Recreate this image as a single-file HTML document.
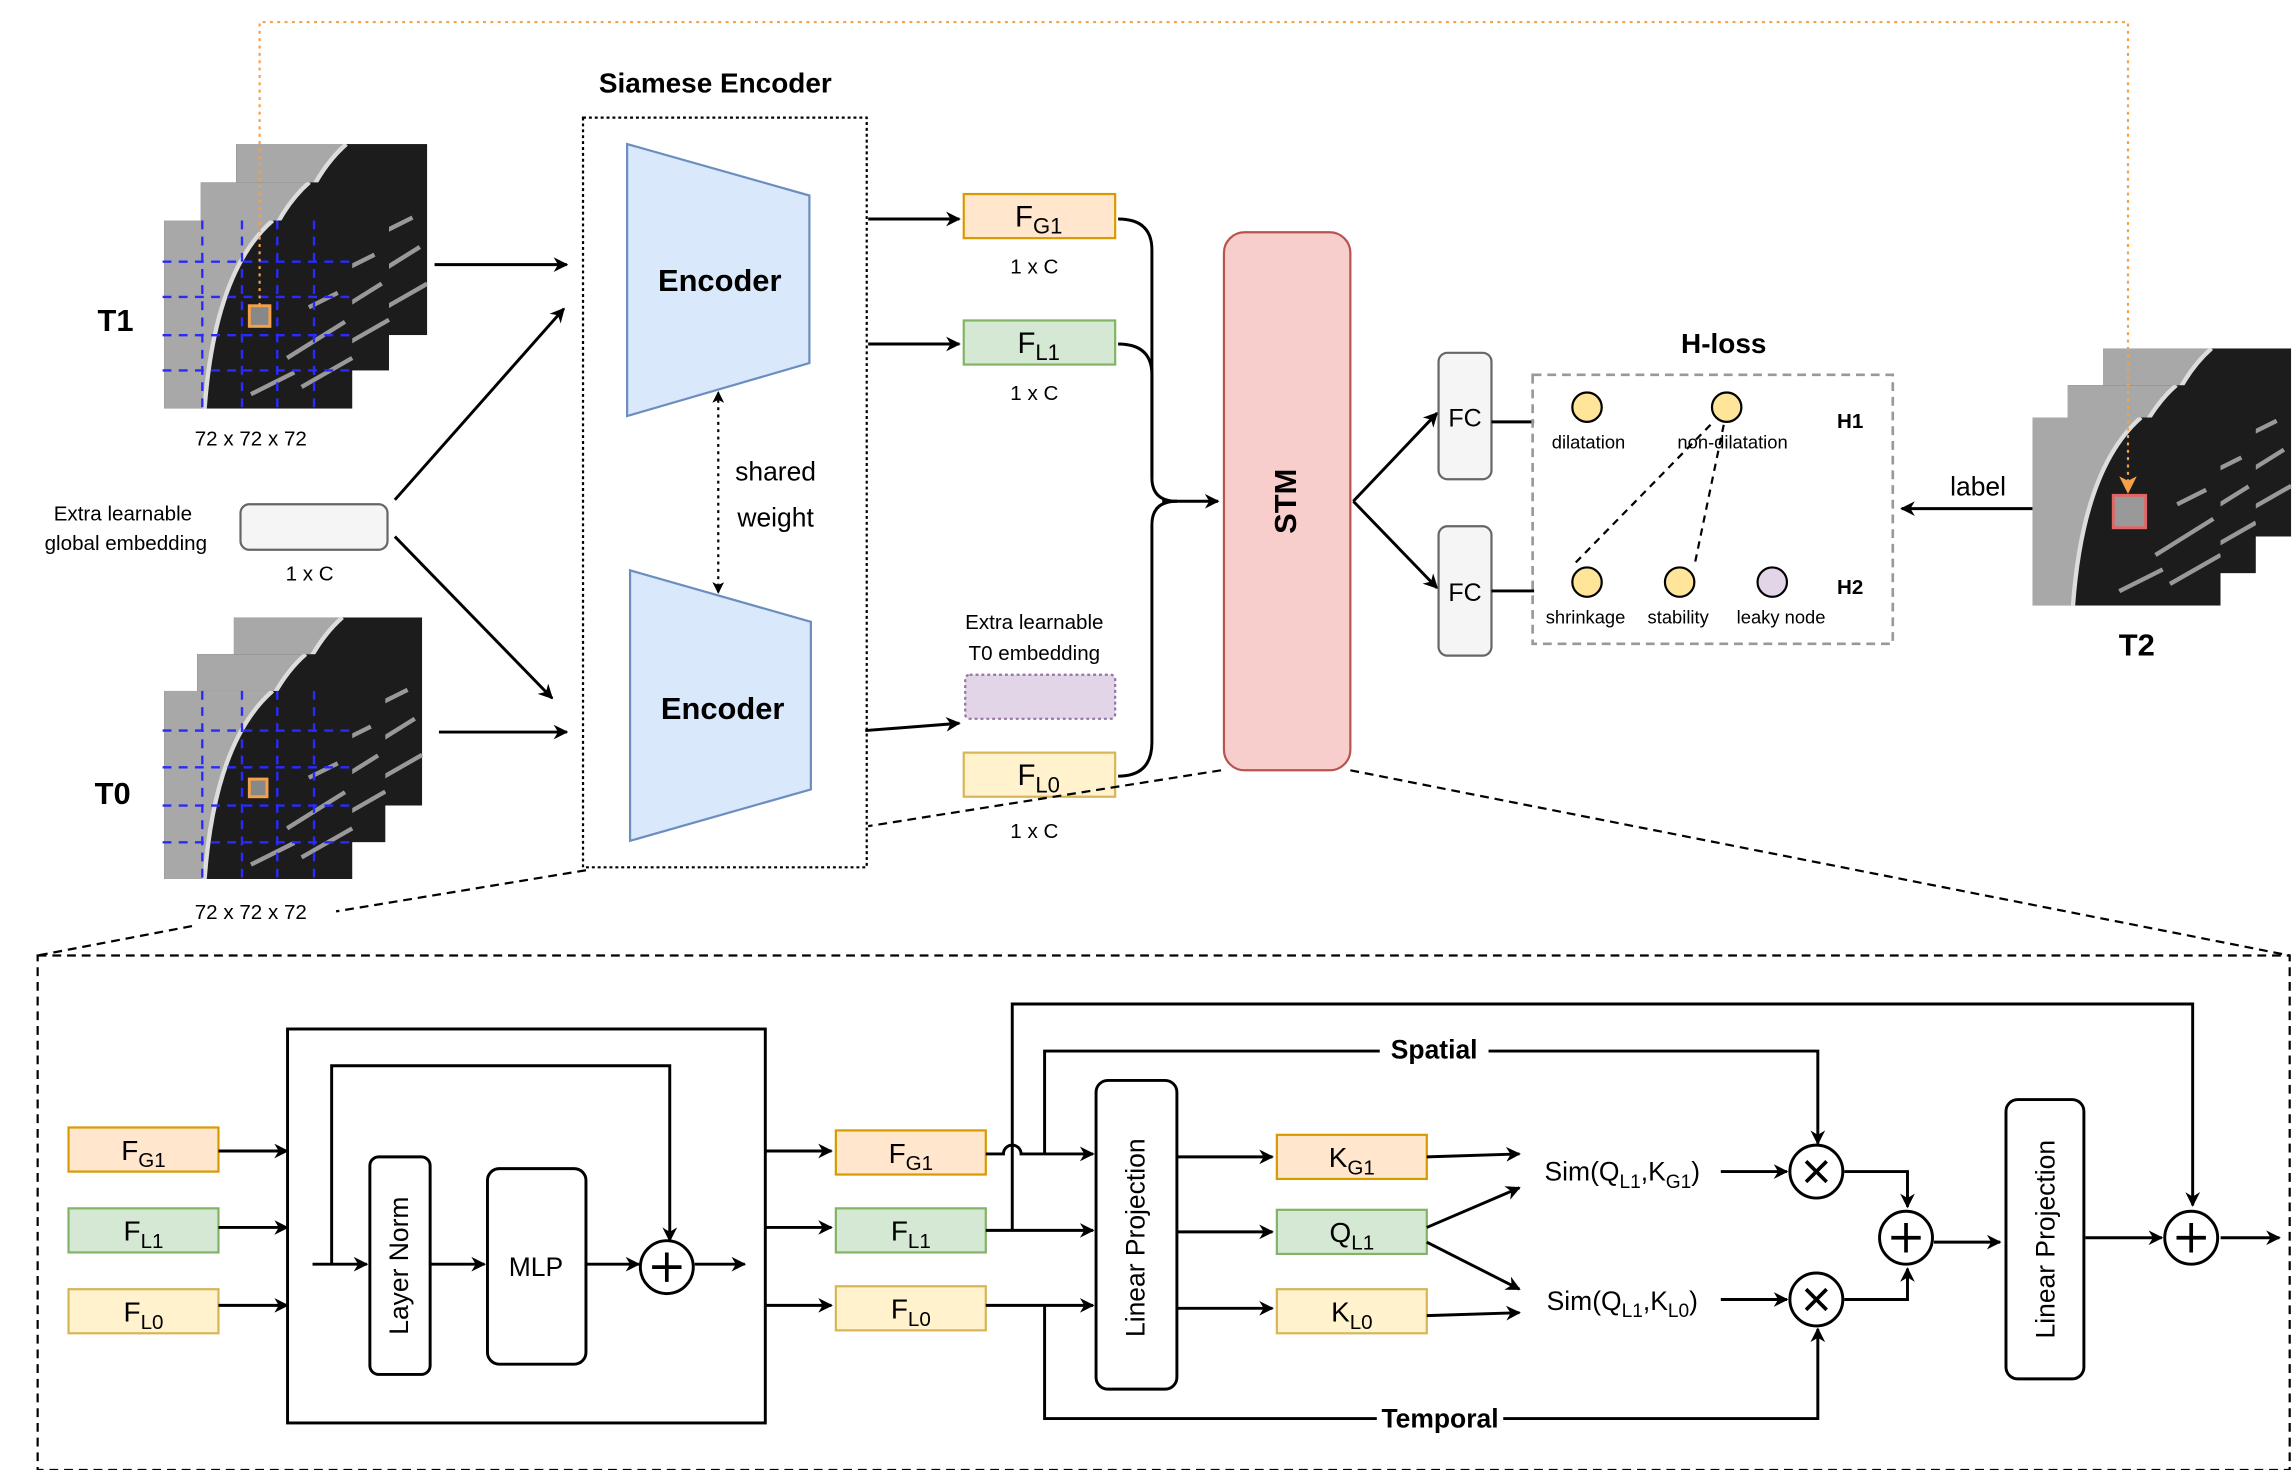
<!DOCTYPE html>
<html><head><meta charset="utf-8"><style>
html,body{margin:0;padding:0;background:#fff}
svg{display:block}
text{font-family:"Liberation Sans","DejaVu Sans",sans-serif;fill:#000}
</style></head><body>
<svg width="2295" height="1470" viewBox="0 0 1560 1000" xmlns="http://www.w3.org/2000/svg">
<defs>
<marker id="ar" markerWidth="10" markerHeight="10" refX="9" refY="5" orient="auto" markerUnits="userSpaceOnUse"><path d="M0,0 L10,5 L0,10 L3,5 Z" fill="#000"/></marker>
<marker id="ao" markerWidth="12" markerHeight="12" refX="11" refY="6" orient="auto" markerUnits="userSpaceOnUse"><path d="M0,0 L12,6 L0,12 L3,6 Z" fill="#f5a04a"/></marker>
<marker id="as" markerWidth="8" markerHeight="8" refX="7" refY="4" orient="auto-start-reverse" markerUnits="userSpaceOnUse"><path d="M0,0 L8,4 L0,8 L2,4 Z" fill="#000"/></marker>
<symbol id="ct" viewBox="0 0 130 130">
<rect width="130" height="130" fill="#1c1c1c"/>
<path d="M0,0 H75 Q35,35 28,130 H0 Z" fill="#a8a8a8"/>
<path d="M75,0 Q35,35 28,130" stroke="#ddd" stroke-width="3" fill="none"/>
<path d="M85,95 L125,70 M95,115 L130,95 M100,60 L120,50 M60,120 L90,105" stroke="#999" stroke-width="3" fill="none"/>
</symbol>
</defs>

<!-- T1 stack -->
<use href="#ct" x="160" y="98" width="130" height="130"/>
<use href="#ct" x="135" y="124" width="130" height="128"/>
<use href="#ct" x="110" y="150" width="130" height="128"/>
<g stroke="#2a2aff" stroke-width="1.6" stroke-dasharray="6,5">
<path d="M110,178 H240 M110,202 H240 M110,228 H240 M110,252 H240 M137,150 V278 M164,150 V278 M188,150 V278 M213,150 V278"/>
</g>
<rect x="169" y="208" width="14" height="14" fill="#888" stroke="#f5a04a" stroke-width="2"/>
<!-- T0 stack -->
<use href="#ct" x="158" y="420" width="129" height="128"/>
<use href="#ct" x="133" y="445" width="129" height="128"/>
<use href="#ct" x="110" y="470" width="130" height="128"/>
<g stroke="#2a2aff" stroke-width="1.6" stroke-dasharray="6,5">
<path d="M110,497 H240 M110,522 H240 M110,548 H240 M110,573 H240 M137,470 V598 M164,470 V598 M188,470 V598 M213,470 V598"/>
</g>
<rect x="169" y="530" width="12" height="12" fill="#888" stroke="#f5a04a" stroke-width="2"/>

<text x="78" y="225" font-size="21" font-weight="bold" text-anchor="middle">T1</text>
<text x="76" y="547" font-size="21" font-weight="bold" text-anchor="middle">T0</text>
<text x="170" y="303" font-size="14" text-anchor="middle">72 x 72 x 72</text>
<text x="170" y="625" font-size="14" text-anchor="middle">72 x 72 x 72</text>

<rect x="163" y="343" width="100" height="31" rx="6" fill="#f5f5f5" stroke="#666" stroke-width="1.5"/>
<text x="210" y="395" font-size="14" text-anchor="middle">1 x C</text>
<text x="83" y="354" font-size="14" text-anchor="middle">Extra learnable</text>
<text x="85" y="374" font-size="14" text-anchor="middle">global embedding</text>

<g stroke="#000" stroke-width="2" fill="none" marker-end="url(#ar)">
<path d="M295,180 H385"/><path d="M298,498 H385"/>
<path d="M268,340 L383,210"/><path d="M268,365 L375,475"/>
</g>

<!-- Siamese -->
<rect x="396" y="80" width="193" height="510" fill="none" stroke="#000" stroke-width="1.5" stroke-dasharray="2,2"/>
<text x="486" y="63" font-size="19" font-weight="bold" text-anchor="middle">Siamese Encoder</text>
<polygon points="426,98 550,133 550,247 426,283" fill="#dae8fc" stroke="#6c8ebf" stroke-width="1.5"/>
<text x="489" y="198" font-size="21" font-weight="bold" text-anchor="middle">Encoder</text>
<polygon points="428,388 551,423 551,537 428,572" fill="#dae8fc" stroke="#6c8ebf" stroke-width="1.5"/>
<text x="491" y="489" font-size="21" font-weight="bold" text-anchor="middle">Encoder</text>
<path d="M488,267 V403" stroke="#000" stroke-width="1.5" stroke-dasharray="2,3" fill="none" marker-start="url(#as)" marker-end="url(#as)"/>
<text x="527" y="327" font-size="18" text-anchor="middle">shared</text>
<text x="527" y="358" font-size="18" text-anchor="middle">weight</text>

<g stroke="#000" stroke-width="2" fill="none" marker-end="url(#ar)">
<path d="M590,149 H652"/><path d="M590,234 H652"/><path d="M588,497 L652,492"/>
</g>

<rect x="655" y="132" width="103" height="30" fill="#ffe6cc" stroke="#d79b00" stroke-width="1.5"/>
<text x="706" y="154" font-size="20" text-anchor="middle">F<tspan font-size="15" dy="5">G1</tspan></text>
<rect x="655" y="218" width="103" height="30" fill="#d5e8d4" stroke="#82b366" stroke-width="1.5"/>
<text x="706" y="240" font-size="20" text-anchor="middle">F<tspan font-size="15" dy="5">L1</tspan></text>
<rect x="656" y="459" width="102" height="30" rx="3" fill="#e1d5e7" stroke="#9673a6" stroke-width="1.5" stroke-dasharray="2,2"/>
<rect x="655" y="512" width="103" height="30" fill="#fff2cc" stroke="#d6b656" stroke-width="1.5"/>
<text x="706" y="534" font-size="20" text-anchor="middle">F<tspan font-size="15" dy="5">L0</tspan></text>
<text x="703" y="186" font-size="14" text-anchor="middle">1 x C</text>
<text x="703" y="272" font-size="14" text-anchor="middle">1 x C</text>
<text x="703" y="570" font-size="14" text-anchor="middle">1 x C</text>
<text x="703" y="428" font-size="14" text-anchor="middle">Extra learnable</text>
<text x="703" y="449" font-size="14" text-anchor="middle">T0 embedding</text>

<g stroke="#000" stroke-width="2" fill="none">
<path d="M760,149 Q783,149 783,170 V325 Q783,341 800,341"/>
<path d="M760,234 Q783,234 783,255 V325"/>
<path d="M760,528 Q783,528 783,505 V357 Q783,341 800,341"/>
<path d="M790,341 H828" marker-end="url(#ar)"/>
</g>

<rect x="832" y="158" width="86" height="366" rx="14" fill="#f8cecc" stroke="#b85450" stroke-width="1.5"/>
<text x="0" y="0" font-size="21" font-weight="bold" text-anchor="middle" transform="translate(881,341) rotate(-90)">STM</text>

<g stroke="#000" stroke-width="2" fill="none" marker-end="url(#ar)">
<path d="M920,341 L977,281"/><path d="M920,341 L977,400"/>
</g>
<rect x="978" y="240" width="36" height="86" rx="6" fill="#f5f5f5" stroke="#666" stroke-width="1.5"/>
<text x="996" y="290" font-size="17" text-anchor="middle" fill="#444">FC</text>
<rect x="978" y="358" width="36" height="88" rx="6" fill="#f5f5f5" stroke="#666" stroke-width="1.5"/>
<text x="996" y="409" font-size="17" text-anchor="middle" fill="#444">FC</text>
<path d="M1014,287 H1043 M1014,402 H1043" stroke="#000" stroke-width="2"/>

<rect x="1042" y="255" width="245" height="183" fill="none" stroke="#999" stroke-width="1.8" stroke-dasharray="6,4"/>
<text x="1172" y="240" font-size="19" font-weight="bold" text-anchor="middle">H-loss</text>
<path d="M1163,289 L1069,385 M1172,289 L1152,385" stroke="#000" stroke-width="1.5" stroke-dasharray="5,4"/>
<g stroke="#000" stroke-width="1.5">
<circle cx="1079" cy="277" r="10" fill="#ffe599"/>
<circle cx="1174" cy="277" r="10" fill="#ffe599"/>
<circle cx="1079" cy="396" r="10" fill="#ffe599"/>
<circle cx="1142" cy="396" r="10" fill="#ffe599"/>
<circle cx="1205" cy="396" r="10" fill="#e1d5e7"/>
</g>
<g font-size="12.5" text-anchor="middle">
<text x="1080" y="305">dilatation</text><text x="1178" y="305">non-dilatation</text>
<text x="1078" y="424">shrinkage</text><text x="1141" y="424">stability</text><text x="1211" y="424">leaky node</text>
</g>
<text x="1258" y="291" font-size="14" font-weight="bold" text-anchor="middle">H1</text>
<text x="1258" y="404" font-size="14" font-weight="bold" text-anchor="middle">H2</text>

<path d="M1382,346 H1293" stroke="#000" stroke-width="2" marker-end="url(#ar)"/>
<text x="1345" y="337" font-size="18" text-anchor="middle">label</text>

<use href="#ct" x="1430" y="237" width="128" height="128"/>
<use href="#ct" x="1406" y="262" width="128" height="128"/>
<use href="#ct" x="1382" y="284" width="128" height="128"/>
<rect x="1437" y="337" width="22" height="22" fill="#999" stroke="#e06666" stroke-width="2"/>
<text x="1453" y="446" font-size="21" font-weight="bold" text-anchor="middle">T2</text>

<!-- orange dotted (drawn over images) -->
<path d="M176,208 V15 H1447 V335" stroke="#f5a04a" stroke-width="1.5" stroke-dasharray="2,3" fill="none" marker-end="url(#ao)"/>

<!-- zoom dashed -->
<g stroke="#000" stroke-width="1.5" stroke-dasharray="6,4" fill="none">
<path d="M918,524 L1557,650"/>
<path d="M830,524 L590,562"/>
<path d="M398,592 L228,620"/>
<path d="M130,630 L25,650"/>
<rect x="25" y="650" width="1532" height="350"/>
</g>

<!-- bottom -->
<rect x="46" y="767" width="102" height="30" fill="#ffe6cc" stroke="#d79b00" stroke-width="1.5"/>
<text x="97" y="789" font-size="19" text-anchor="middle">F<tspan font-size="14" dy="5">G1</tspan></text>
<rect x="46" y="822" width="102" height="30" fill="#d5e8d4" stroke="#82b366" stroke-width="1.5"/>
<text x="97" y="844" font-size="19" text-anchor="middle">F<tspan font-size="14" dy="5">L1</tspan></text>
<rect x="46" y="877" width="102" height="30" fill="#fff2cc" stroke="#d6b656" stroke-width="1.5"/>
<text x="97" y="899" font-size="19" text-anchor="middle">F<tspan font-size="14" dy="5">L0</tspan></text>

<g stroke="#000" stroke-width="2" fill="none" marker-end="url(#ar)">
<path d="M148,783 H195"/><path d="M148,835 H195"/><path d="M148,888 H195"/>
</g>
<rect x="195" y="700" width="325" height="268" fill="none" stroke="#000" stroke-width="2"/>
<g stroke="#000" stroke-width="2" fill="none">
<path d="M212,860 H249" marker-end="url(#ar)"/>
<path d="M225,860 V725 H455 V844" marker-end="url(#ar)"/>
<path d="M292,860 H329" marker-end="url(#ar)"/>
<path d="M398,860 H434" marker-end="url(#ar)"/>
<path d="M472,860 H506" marker-end="url(#ar)"/>
</g>
<rect x="251" y="787" width="41" height="148" rx="6" fill="#fff" stroke="#000" stroke-width="2"/>
<text font-size="18" text-anchor="middle" transform="translate(277,861) rotate(-90)">Layer Norm</text>
<rect x="331" y="795" width="67" height="133" rx="8" fill="#fff" stroke="#000" stroke-width="2"/>
<text x="364" y="868" font-size="18" text-anchor="middle">MLP</text>
<circle cx="453" cy="862" r="18" fill="#fff" stroke="#000" stroke-width="2"/>
<path d="M443,862 H463 M453,852 V872" stroke="#000" stroke-width="2.5"/>

<g stroke="#000" stroke-width="2" fill="none" marker-end="url(#ar)">
<path d="M520,783 H565"/><path d="M520,835 H565"/><path d="M520,888 H565"/>
</g>
<rect x="568" y="769" width="102" height="30" fill="#ffe6cc" stroke="#d79b00" stroke-width="1.5"/>
<text x="619" y="791" font-size="19" text-anchor="middle">F<tspan font-size="14" dy="5">G1</tspan></text>
<rect x="568" y="822" width="102" height="30" fill="#d5e8d4" stroke="#82b366" stroke-width="1.5"/>
<text x="619" y="844" font-size="19" text-anchor="middle">F<tspan font-size="14" dy="5">L1</tspan></text>
<rect x="568" y="875" width="102" height="30" fill="#fff2cc" stroke="#d6b656" stroke-width="1.5"/>
<text x="619" y="897" font-size="19" text-anchor="middle">F<tspan font-size="14" dy="5">L0</tspan></text>

<g stroke="#000" stroke-width="2" fill="none">
<path d="M670,785 H682 A6,6 0 0 1 694,785 H743" marker-end="url(#ar)"/>
<path d="M670,837 H743" marker-end="url(#ar)"/>
<path d="M670,888 H743" marker-end="url(#ar)"/>
<path d="M688,837 V683 H1491 V820" marker-end="url(#ar)"/>
<path d="M710,785 V715 H1236 V778" marker-end="url(#ar)"/>
<path d="M710,888 V965 H1236 V904" marker-end="url(#ar)"/>
</g>
<rect x="938" y="705" width="74" height="20" fill="#fff"/>
<text x="975" y="720" font-size="18" font-weight="bold" text-anchor="middle">Spatial</text>
<rect x="936" y="955" width="86" height="20" fill="#fff"/>
<text x="979" y="971" font-size="18" font-weight="bold" text-anchor="middle">Temporal</text>

<rect x="745" y="735" width="55" height="210" rx="8" fill="#fff" stroke="#000" stroke-width="2"/>
<text font-size="18" text-anchor="middle" transform="translate(778,842) rotate(-90)">Linear Projection</text>
<g stroke="#000" stroke-width="2" fill="none" marker-end="url(#ar)">
<path d="M800,787 H865"/><path d="M800,838 H865"/><path d="M800,890 H865"/>
</g>
<rect x="868" y="772" width="102" height="30" fill="#ffe6cc" stroke="#d79b00" stroke-width="1.5"/>
<text x="919" y="794" font-size="19" text-anchor="middle">K<tspan font-size="14" dy="5">G1</tspan></text>
<rect x="868" y="823" width="102" height="30" fill="#d5e8d4" stroke="#82b366" stroke-width="1.5"/>
<text x="919" y="845" font-size="19" text-anchor="middle">Q<tspan font-size="14" dy="5">L1</tspan></text>
<rect x="868" y="877" width="102" height="30" fill="#fff2cc" stroke="#d6b656" stroke-width="1.5"/>
<text x="919" y="899" font-size="19" text-anchor="middle">K<tspan font-size="14" dy="5">L0</tspan></text>

<g stroke="#000" stroke-width="2" fill="none" marker-end="url(#ar)">
<path d="M970,787 L1033,785"/><path d="M970,835 L1033,808"/>
<path d="M970,845 L1033,877"/><path d="M970,895 L1033,893"/>
<path d="M1170,797 H1215"/><path d="M1170,884 H1215"/>
<path d="M1254,797 H1297 V821"/><path d="M1254,884 H1297 V863"/>
<path d="M1315,845 H1360"/>
<path d="M1418,842 H1470"/>
<path d="M1510,842 H1550"/>
</g>
<text x="1103" y="803" font-size="18" text-anchor="middle">Sim(Q<tspan font-size="13" dy="5">L1</tspan><tspan dy="-5">,K</tspan><tspan font-size="13" dy="5">G1</tspan><tspan dy="-5">)</tspan></text>
<text x="1103" y="891" font-size="18" text-anchor="middle">Sim(Q<tspan font-size="13" dy="5">L1</tspan><tspan dy="-5">,K</tspan><tspan font-size="13" dy="5">L0</tspan><tspan dy="-5">)</tspan></text>

<g stroke="#000" stroke-width="2" fill="#fff">
<circle cx="1235" cy="797" r="18"/><circle cx="1235" cy="884" r="18"/>
<circle cx="1296" cy="842" r="18"/><circle cx="1490" cy="842" r="18"/>
</g>
<path d="M1228,790 L1242,804 M1242,790 L1228,804 M1228,877 L1242,891 M1242,877 L1228,891 M1286,842 H1306 M1296,832 V852 M1480,842 H1500 M1490,832 V852" stroke="#000" stroke-width="2.5"/>

<rect x="1364" y="748" width="53" height="190" rx="8" fill="#fff" stroke="#000" stroke-width="2"/>
<text font-size="18" text-anchor="middle" transform="translate(1397,843) rotate(-90)">Linear Projection</text>
</svg>
</body></html>
